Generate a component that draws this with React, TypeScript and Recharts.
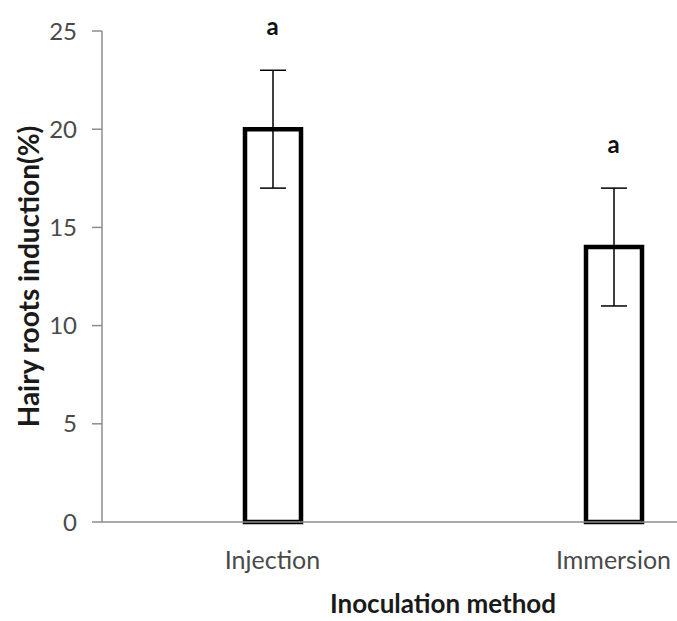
import React from "react";
import { ComposedChart, Bar, XAxis, YAxis, ErrorBar, Line, LabelList, Label } from "recharts";

const categories = ["Injection", "Immersion"];
const means = [20, 14];
const errors = [3, 3];
const letters = ["a", "a"];
const yTicks = [0, 5, 10, 15, 20, 25];
const boundaryTicks = [0, 1, 2];

const data = categories.map((c, i) => ({
  name: c,
  value: means[i],
  err: errors[i],
  top: means[i] + errors[i],
  letter: letters[i],
}));

const FONT = "Lato, 'Open Sans', sans-serif";
const AXIS = "#8c8c8c";
const TXT = "#4a4a4a";

const LetterLabel = (props: any) => {
  const { x, y, index } = props;
  if (x == null || y == null) return null;
  return (
    <text x={x} y={y - 35} textAnchor="middle" fontFamily={FONT} fontWeight={700} fontSize={24} fill="#111">
      {letters[index]}
    </text>
  );
};

export default function App() {
  return (
    <div style={{ position: "fixed", left: 0, top: 0, width: 677, height: 621, overflow: "hidden", background: "#fff" }}>
      <ComposedChart width={800} height={621} data={data} margin={{ top: 31, right: 16, left: 0, bottom: 0 }}>
        <XAxis
          xAxisId="edges"
          type="number"
          domain={[0, 2]}
          ticks={boundaryTicks}
          allowDataOverflow
          height={0}
          axisLine={false}
          tickLine={{ stroke: AXIS, strokeWidth: 1.5 }}
          tickSize={10}
          tickFormatter={() => ""}
        />
        <XAxis
          dataKey="name"
          height={99}
          axisLine={{ stroke: AXIS, strokeWidth: 1.5 }}
          tickLine={false}
          tickSize={0}
          tickMargin={29}
          tick={{ fill: TXT, fontFamily: FONT, fontSize: 25 }}
        >
          <Label
            content={(p: any) => {
              const vb = p.viewBox || {};
              return (
                <text x={vb.x + vb.width / 2} y={613} textAnchor="middle" fontFamily={FONT} fontWeight={700} fontSize={26} fill="#1a1a1a">
                  Inoculation method
                </text>
              );
            }}
          />
        </XAxis>
        <YAxis
          width={102}
          domain={[0, 25]}
          ticks={yTicks}
          axisLine={{ stroke: AXIS, strokeWidth: 1.5 }}
          tickLine={{ stroke: AXIS, strokeWidth: 1.5 }}
          tickSize={10}
          tickMargin={15}
          tick={{ fill: TXT, fontFamily: FONT, fontSize: 24 }}
        >
          <Label
            content={(p: any) => {
              const vb = p.viewBox || {};
              const cx = 28;
              const cy = vb.y + vb.height / 2;
              return (
                <text
                  x={cx}
                  y={cy}
                  transform={`rotate(-90 ${cx} ${cy})`}
                  textAnchor="middle"
                  dominantBaseline="central"
                  fontFamily={FONT}
                  fontWeight={700}
                  fontSize={28}
                  fill="#1a1a1a"
                >
                  Hairy roots induction(%)
                </text>
              );
            }}
          />
        </YAxis>
        <Bar dataKey="value" barSize={56} fill="#fff" stroke="#000" strokeWidth={4.5} isAnimationActive={false}>
          <ErrorBar dataKey="err" width={13} stroke="#000" strokeWidth={1.5} />
        </Bar>
        <Line dataKey="top" stroke="none" dot={false} activeDot={false} isAnimationActive={false} legendType="none">
          <LabelList dataKey="letter" content={LetterLabel} />
        </Line>
      </ComposedChart>
    </div>
  );
}
